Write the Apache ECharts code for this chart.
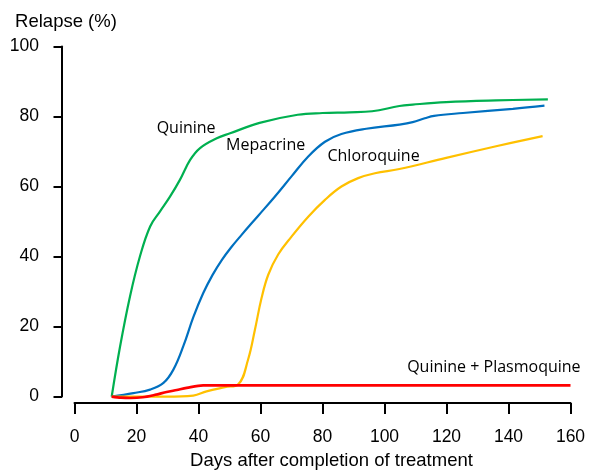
<!DOCTYPE html>
<html>
<head>
<meta charset="utf-8">
<script src="https://cdn.jsdelivr.net/npm/echarts@6/dist/echarts.min.js"></script>
<style>
  html, body { margin: 0; padding: 0; background: #fff; }
  #chart { width: 600px; height: 475px; }
</style>
</head>
<body>
<div id="chart"></div>
<script>
// ---- Data (days after completion of treatment, relapse %) ----
var quinine = [[12,0],[14.7,14.3],[17.9,28.6],[21.1,40],[24.4,48.6],[27.6,52.9],[30.8,57.1],[34,61.9],[37.3,67.6],[40.5,71],[45.9,73.8],[50.2,75.2],[59.7,78.2],[72,80.5],[80,81],[88.7,81.2],[96,81.5],[104.8,83],[109.1,83.4],[119.9,84.1],[136,84.6],[152.7,84.9]];
var mepacrine = [[12,0],[19,1],[24.4,2],[28.7,3.9],[31.9,7.7],[35.1,14.4],[38.3,22.6],[41.5,29.5],[44.5,34.7],[47.5,39],[50.5,42.6],[53.9,46.2],[59.2,51.6],[64.6,57.1],[70,62.9],[75.4,68.6],[80.8,72.8],[86.1,75],[94.1,76.5],[104.8,77.7],[109.1,78.4],[113,79.5],[116,80.2],[125.3,81],[141.4,82.2],[151.6,83.1]];
var chloroquine = [[12,0],[20,0],[29.7,0],[38.3,0.3],[42.6,1.5],[48.5,2.7],[52.8,3.5],[56,10.6],[58.2,19.1],[60.3,28],[62.5,34.8],[65.7,40.6],[70,45.7],[75.4,51.4],[80.8,56.2],[86.1,60],[91.5,62.4],[96.9,63.8],[104.8,65],[119.9,68.2],[136,71.5],[151,74.4]];
var quininePlasmoquine = [[12,0],[15,-0.3],[18,-0.4],[22,-0.2],[26,0.5],[29.7,1.3],[33,1.9],[36.2,2.5],[41.5,3.2],[160,3.2]];

var seriesNames = ['Quinine', 'Mepacrine', 'Chloroquine', 'Quinine + Plasmoquine'];
var seriesColors = ['#00B050', '#0070C0', '#FFC000', '#FF0000'];
// label anchors (data coords: left edge, vertical middle)
var labelAnchors = [[26.5,76.7],[48.9,71.8],[81.6,68.6],[107.3,8.4]];

var xTicks = [0, 20, 40, 60, 80, 100, 120, 140, 160];
var yTicks = [0, 20, 40, 60, 80, 100];

var chart = echarts.init(document.getElementById('chart'), null, {renderer: 'canvas'});

var axisFont = 'Liberation Sans, Arial, sans-serif';

function mkSeries(name, data, color, width, smooth) {
  return {
    name: name, type: 'line', data: data, smooth: smooth,
    showSymbol: false, symbol: 'none', clip: false,
    lineStyle: {color: color, width: width},
    itemStyle: {color: color}
  };
}

var option = {
  animation: false,
  backgroundColor: '#ffffff',
  grid: {left: 74.5, right: 29.5, top: 46.5, bottom: 78, containLabel: false},
  xAxis: {
    type: 'value', min: xTicks[0], max: xTicks[xTicks.length-1], interval: 20,
    offset: 6.5,
    name: 'Days after completion of treatment',
    nameLocation: 'middle', nameGap: 41,
    nameTextStyle: {fontFamily: axisFont, fontSize: 18.5, color: '#000', padding: [0,0,0,18]},
    axisLine: {show: true, onZero: false, lineStyle: {color: '#000', width: 2}},
    axisTick: {show: true, inside: false, length: 11, lineStyle: {color: '#000', width: 2}},
    axisLabel: {fontFamily: axisFont, fontSize: 17.5, color: '#000', margin: 25},
    splitLine: {show: false}
  },
  yAxis: {
    type: 'value', min: yTicks[0], max: yTicks[yTicks.length-1], interval: 20,
    offset: 12.5,
    name: 'Relapse (%)',
    nameLocation: 'end', nameGap: 25,
    nameTextStyle: {fontFamily: axisFont, fontSize: 18.5, color: '#000', align: 'center', verticalAlign: 'middle', padding: [0,0,0,8]},
    axisLine: {show: true, onZero: false, lineStyle: {color: '#000', width: 2}},
    axisTick: {show: true, inside: false, length: 8.5, lineStyle: {color: '#000', width: 2}},
    axisLabel: {fontFamily: axisFont, fontSize: 17.5, color: '#000', margin: 23},
    splitLine: {show: false}
  },
  series: [
    mkSeries(seriesNames[0], quinine, seriesColors[0], 2.2, 0.4),
    mkSeries(seriesNames[1], mepacrine, seriesColors[1], 2.2, 0.4),
    mkSeries(seriesNames[2], chloroquine, seriesColors[2], 2.2, 0.4),
    mkSeries(seriesNames[3], quininePlasmoquine, seriesColors[3], 2.6, 0.3)
  ]
};
chart.setOption(option);

var graphics = labelAnchors.map(function (a, i) {
  var p = chart.convertToPixel({gridIndex: 0}, a);
  return {
    type: 'text', x: p[0], y: p[1], silent: true,
    style: {text: seriesNames[i], fill: '#000', font: '16px "Open Sans", sans-serif', align: 'left', verticalAlign: 'middle'}
  };
});
chart.setOption({graphic: graphics});
</script>
</body>
</html>
